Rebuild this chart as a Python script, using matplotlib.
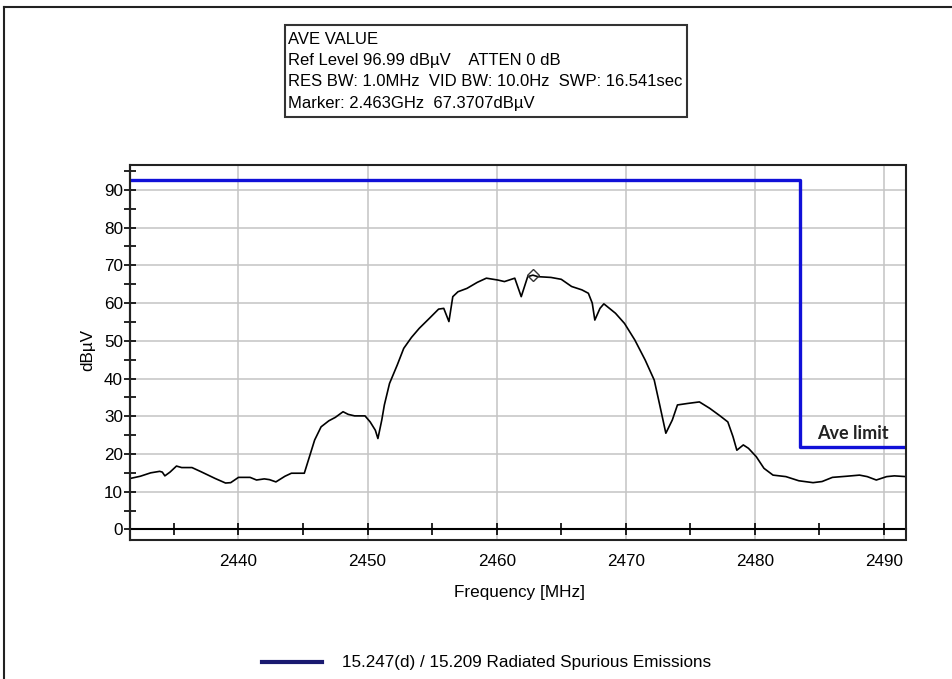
import matplotlib
matplotlib.use('Agg')
import matplotlib.pyplot as plt
from matplotlib.lines import Line2D
from matplotlib.patches import Rectangle
from matplotlib.ticker import MultipleLocator

plt.rcParams['font.family'] = ['Liberation Sans', 'DejaVu Sans']

######## data ########

# measured trace (MHz, dBuV)
freq = [2431.6, 2432.4, 2433.2, 2433.9, 2434.1, 2434.3, 2434.7, 2435.2, 2435.6, 2436.4,
        2437.1, 2438.2, 2439.0, 2439.4, 2440.0, 2440.9, 2441.4, 2442.0, 2442.4, 2442.9,
        2443.6, 2444.1, 2445.1, 2445.5, 2445.9, 2446.4, 2447.0, 2447.5, 2448.1, 2448.5,
        2449.0, 2449.8, 2450.2, 2450.6, 2450.8, 2451.1, 2451.3, 2451.7, 2452.3, 2452.8,
        2453.4, 2454.0, 2454.8, 2455.5, 2455.9, 2456.3, 2456.6, 2457.0, 2457.7, 2458.5,
        2459.2, 2460.1, 2460.6, 2461.4, 2461.9, 2462.4, 2462.8, 2463.2, 2464.2, 2465.0,
        2465.8, 2466.6, 2467.1, 2467.4, 2467.6, 2468.0, 2468.3, 2469.2, 2469.9, 2470.7,
        2471.5, 2472.2, 2472.6, 2473.1, 2473.6, 2474.0, 2474.8, 2475.7, 2476.5, 2477.3,
        2477.9, 2478.3, 2478.6, 2479.1, 2479.5, 2480.1, 2480.7, 2481.4, 2482.4, 2483.4,
        2484.5, 2485.2, 2486.0, 2487.1, 2488.1, 2488.7, 2489.4, 2490.2, 2490.8, 2491.7]
level = [13.5, 14.1, 15.0, 15.4, 15.2, 14.2, 15.2, 16.8, 16.4, 16.4,
         15.3, 13.5, 12.3, 12.4, 13.8, 13.8, 13.1, 13.4, 13.2, 12.6,
         14.1, 14.9, 14.9, 19.3, 23.7, 27.2, 28.8, 29.7, 31.2, 30.5,
         30.1, 30.1, 28.5, 26.3, 24.1, 29.0, 33.0, 38.7, 43.6, 48.0,
         50.9, 53.3, 56.0, 58.4, 58.6, 55.1, 61.7, 63.0, 63.9, 65.5,
         66.6, 66.1, 65.7, 66.6, 61.7, 67.0, 67.4, 67.0, 66.8, 66.3,
         64.4, 63.5, 62.6, 60.0, 55.5, 58.6, 59.8, 57.3, 54.6, 50.2,
         44.9, 39.6, 33.4, 25.5, 29.0, 33.0, 33.4, 33.8, 32.1, 30.1,
         28.5, 24.6, 21.0, 22.4, 21.5, 19.3, 16.2, 14.4, 14.0, 12.9,
         12.4, 12.7, 13.8, 14.1, 14.4, 14.0, 13.1, 14.0, 14.2, 14.0]

# average limit line
limit_freq = [2431.6, 2483.5, 2483.5, 2491.7]
limit_level = [92.6, 92.6, 21.9, 21.9]

marker_freq = 2462.8
marker_level = 67.37

info_lines = ['AVE VALUE',
              'Ref Level 96.99 dB\u00b5V    ATTEN 0 dB',
              'RES BW: 1.0MHz  VID BW: 10.0Hz  SWP: 16.541sec',
              'Marker: 2.463GHz  67.3707dB\u00b5V']
legend_label = '15.247(d) / 15.209 Radiated Spurious Emissions'

######## plot ########

fig = plt.figure(figsize=(9.52, 6.79), dpi=100)
ax = fig.add_axes([130 / 952, 1 - 540 / 679, 776 / 952, 375 / 679])

ax.set_xlim(2431.6, 2491.7)
ax.set_ylim(-2.8, 96.6)

# grid
ax.xaxis.set_major_locator(MultipleLocator(10))
ax.xaxis.set_minor_locator(MultipleLocator(5))
ax.yaxis.set_major_locator(MultipleLocator(10))
ax.yaxis.set_minor_locator(MultipleLocator(5))
ax.grid(True, which='major', color='#c4c4c4', lw=1.1)
ax.set_axisbelow(True)

# traces
ax.plot(freq, level, color='black', lw=1.2, zorder=3)
ax.plot(limit_freq, limit_level, color='#1010d8', lw=2.4, zorder=4)
ax.plot([marker_freq], [marker_level], marker='D', ms=6, mfc='none', mec='#333333', mew=1, zorder=5)
ax.text(2484.8, 25.5, 'Ave limit', fontsize=13, fontweight='bold', family=['Lato', 'DejaVu Sans'],
        color='#222222', va='center', ha='left')

# x axis drawn at 0, frame around
ax.spines['bottom'].set_position(('data', 0))
ax.spines['bottom'].set_linewidth(1.5)
for s in ['top', 'right']:
    ax.spines[s].set_visible(False)
ax.spines['left'].set_linewidth(1.5)
ax.add_patch(Rectangle((0, 0), 1, 1, transform=ax.transAxes, fill=False, lw=1.5, ec='#222222', zorder=6, clip_on=False))

ax.tick_params(axis='both', which='both', direction='inout', color='black', width=1.2, length=8)
ax.tick_params(axis='x', which='major', pad=14, labelsize=12.3)
ax.tick_params(axis='y', which='major', pad=1, labelsize=12.3)
ax.set_xticks([2440, 2450, 2460, 2470, 2480, 2490])
ax.set_yticks(range(0, 100, 10))

fig.text(519 / 952, 1 - 593 / 679, 'Frequency [MHz]', fontsize=12.3, ha='center', va='center')
fig.text(88 / 952, 1 - 350 / 679, 'dB\u00b5V', fontsize=12.3, ha='center', va='center', rotation=90)

# info box
fig.add_artist(Rectangle((285 / 952, 1 - 117 / 679), 402 / 952, 92 / 679, transform=fig.transFigure,
                         fill=False, lw=1.5, ec='#333333'))
for i, line in enumerate(info_lines):
    fig.text(288 / 952, 1 - (39 + i * 21.5) / 679, line, fontsize=12, ha='left', va='center')

# legend
handle = Line2D([], [], color='#1a1a70', lw=3)
fig.legend([handle], [legend_label], loc='center left', bbox_to_anchor=(262 / 952, 1 - 663 / 679),
           frameon=False, fontsize=12.3, handlelength=3.5, handletextpad=1.2, borderpad=0, borderaxespad=0)

# outer border (left and top)
fig.add_artist(Line2D([4 / 952, 4 / 952], [0, 1 - 7 / 679], transform=fig.transFigure, color='#222222', lw=1.5))
fig.add_artist(Line2D([4 / 952, 1], [1 - 7 / 679, 1 - 7 / 679], transform=fig.transFigure, color='#222222', lw=1.5))

fig.savefig('out.png', dpi=100)
